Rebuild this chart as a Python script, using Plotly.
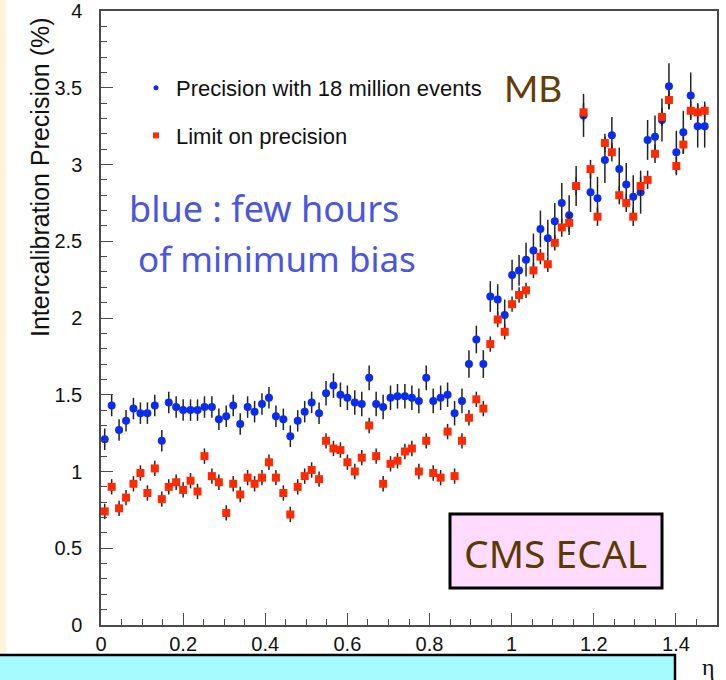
import plotly.graph_objects as go

# eta bin centres (85 crystal rings)
eta = [0.009, 0.026, 0.044, 0.061, 0.079, 0.096, 0.113, 0.131, 0.148, 0.165,
       0.183, 0.200, 0.218, 0.235, 0.252, 0.270, 0.287, 0.305, 0.322, 0.339,
       0.357, 0.374, 0.392, 0.409, 0.426, 0.444, 0.461, 0.479, 0.496, 0.513,
       0.531, 0.548, 0.566, 0.583, 0.600, 0.618, 0.635, 0.653, 0.670, 0.687,
       0.705, 0.722, 0.740, 0.757, 0.774, 0.792, 0.809, 0.827, 0.844, 0.861,
       0.879, 0.896, 0.914, 0.931, 0.948, 0.966, 0.983, 1.001, 1.018, 1.035,
       1.053, 1.070, 1.088, 1.105, 1.122, 1.140, 1.157, 1.175, 1.192, 1.209,
       1.227, 1.244, 1.262, 1.279, 1.296, 1.314, 1.331, 1.349, 1.366, 1.383,
       1.401, 1.418, 1.436, 1.453, 1.470]

# Precision with 18 million events (blue)
prec_mb = [1.21, 1.43, 1.27, 1.33, 1.41, 1.38, 1.38, 1.43, 1.20, 1.45,
           1.42, 1.40, 1.40, 1.40, 1.42, 1.42, 1.34, 1.36, 1.43, 1.31,
           1.42, 1.39, 1.44, 1.48, 1.36, 1.34, 1.23, 1.33, 1.39, 1.45,
           1.38, 1.51, 1.56, 1.50, 1.48, 1.45, 1.44, 1.61, 1.44, 1.42,
           1.48, 1.49, 1.49, 1.48, 1.46, 1.61, 1.46, 1.48, 1.50, 1.38,
           1.46, 1.70, 1.86, 1.70, 2.14, 2.12, 2.02, 2.28, 2.31, 2.38,
           2.44, 2.58, 2.52, 2.63, 2.75, 2.67, 2.86, 3.32, 2.82, 2.78,
           3.03, 3.19, 2.97, 2.87, 2.79, 2.82, 3.16, 3.18, 3.29, 3.51,
           3.08, 3.21, 3.45, 3.25, 3.25]
prec_mb_err = [0.07, 0.07, 0.07, 0.07, 0.07, 0.07, 0.07, 0.07, 0.07, 0.07,
               0.07, 0.07, 0.07, 0.07, 0.07, 0.07, 0.07, 0.07, 0.07, 0.07,
               0.07, 0.07, 0.07, 0.07, 0.07, 0.07, 0.07, 0.07, 0.07, 0.07,
               0.07, 0.08, 0.08, 0.08, 0.08, 0.08, 0.08, 0.08, 0.08, 0.08,
               0.08, 0.08, 0.08, 0.08, 0.08, 0.08, 0.08, 0.08, 0.08, 0.08,
               0.08, 0.09, 0.09, 0.09, 0.10, 0.10, 0.10, 0.10, 0.10, 0.11,
               0.11, 0.12, 0.12, 0.12, 0.13, 0.13, 0.13, 0.14, 0.13, 0.14,
               0.15, 0.12, 0.14, 0.14, 0.14, 0.14, 0.13, 0.14, 0.14, 0.15,
               0.14, 0.14, 0.15, 0.14, 0.14]

# Limit on precision (red)
prec_lim = [0.74, 0.90, 0.76, 0.83, 0.92, 0.99, 0.86, 1.02, 0.82, 0.90,
            0.93, 0.88, 0.94, 0.87, 1.10, 0.97, 0.93, 0.73, 0.92, 0.85,
            0.96, 0.92, 0.96, 1.06, 0.96, 0.86, 0.72, 0.90, 0.97, 1.01,
            0.95, 1.20, 1.15, 1.14, 1.06, 1.00, 1.09, 1.30, 1.10, 0.92,
            1.05, 1.07, 1.13, 1.15, 1.00, 1.20, 0.99, 0.96, 1.26, 0.97,
            1.20, 1.35, 1.47, 1.41, 1.83, 1.99, 1.91, 2.09, 2.15, 2.18,
            2.31, 2.40, 2.35, 2.49, 2.59, 2.62, 2.86, 3.34, 2.97, 2.66,
            3.14, 3.08, 2.80, 2.75, 2.66, 2.86, 2.90, 3.07, 3.31, 3.42,
            2.99, 3.13, 3.35, 3.34, 3.35]
prec_lim_err = [0.05, 0.05, 0.05, 0.05, 0.05, 0.05, 0.05, 0.05, 0.05, 0.05,
                0.05, 0.05, 0.05, 0.05, 0.05, 0.05, 0.05, 0.05, 0.05, 0.05,
                0.05, 0.05, 0.05, 0.05, 0.05, 0.05, 0.05, 0.05, 0.05, 0.05,
                0.05, 0.05, 0.05, 0.05, 0.05, 0.05, 0.05, 0.05, 0.05, 0.05,
                0.05, 0.05, 0.05, 0.05, 0.05, 0.05, 0.05, 0.05, 0.05, 0.05,
                0.05, 0.05, 0.05, 0.05, 0.05, 0.05, 0.05, 0.05, 0.05, 0.05,
                0.05, 0.05, 0.05, 0.05, 0.06, 0.06, 0.06, 0.06, 0.06, 0.06,
                0.06, 0.06, 0.06, 0.06, 0.06, 0.06, 0.06, 0.06, 0.06, 0.06,
                0.06, 0.06, 0.06, 0.06, 0.06]

x_ticks = [0, 0.2, 0.4, 0.6, 0.8, 1.0, 1.2, 1.4]
x_tick_text = ["0", "0.2", "0.4", "0.6", "0.8", "1", "1.2", "1.4"]
y_ticks = [0, 0.5, 1, 1.5, 2, 2.5, 3, 3.5, 4]
y_tick_text = ["0", "0.5", "1", "1.5", "2", "2.5", "3", "3.5", "4"]

BLUE = "#0a2cf0"
RED = "#ff2a00"

fig = go.Figure()
fig.add_trace(go.Scatter(
    x=eta, y=prec_mb, mode="markers", showlegend=False,
    marker=dict(symbol="circle", size=8, color=BLUE, line=dict(width=0)),
    error_y=dict(type="data", array=prec_mb_err, color="#222222", thickness=1.5, width=0)))
fig.add_trace(go.Scatter(
    x=eta, y=prec_lim, mode="markers", showlegend=False,
    marker=dict(symbol="square", size=8, color=RED, line=dict(width=0)),
    error_y=dict(type="data", array=prec_lim_err, color="#222222", thickness=1.5, width=0)))
# legend entries
fig.add_trace(go.Scatter(x=[None], y=[None], mode="markers", name="Precision with 18 million events",
                         legendgroup="a", marker=dict(symbol="circle", size=5, color=BLUE)))
fig.add_trace(go.Scatter(x=[None], y=[None], mode="markers", name="Limit on precision",
                         legendgroup="b", marker=dict(symbol="square", size=6, color=RED)))

L, R, T, B = 101, 9, 11, 55
W, H = 726, 680
pw, ph = W - L - R, H - T - B

def px(x):
    return (x - L) / pw

def py(y):
    return (H - B - y) / ph

axis_common = dict(
    showgrid=False, zeroline=False, showline=True, mirror=True,
    linecolor="#4a4a4a", linewidth=1.5,
    ticks="inside", ticklen=12, tickwidth=1.2, tickcolor="#4a4a4a",
    ticklabeloverflow="allow",
    tickfont=dict(family="Liberation Sans, Arial, sans-serif", size=20, color="#111111"),
)
fig.update_xaxes(range=[0, 1.5], tickvals=x_ticks, ticktext=x_tick_text,
                 minor=dict(ticks="inside", ticklen=6, dtick=0.05, tickcolor="#4a4a4a", tickwidth=1.2),
                 ticklabelstandoff=0, **axis_common)
fig.update_yaxes(range=[0, 4], tickvals=y_ticks, ticktext=y_tick_text,
                 minor=dict(ticks="inside", ticklen=6, dtick=0.1, tickcolor="#4a4a4a", tickwidth=1.2),
                 ticklabelstandoff=13, **axis_common)

shapes = [
    # cream strip on the left edge
    dict(type="rect", xref="paper", yref="paper", x0=px(0), x1=px(6), y0=py(655), y1=py(-5),
         fillcolor="#fdf5da", line=dict(width=0), layer="below"),
    # cyan bar at the bottom
    dict(type="rect", xref="paper", yref="paper", x0=px(-10), x1=px(675), y0=py(690), y1=py(655),
         fillcolor="#a6fbff", line=dict(color="black", width=2.5), layer="below"),
    # CMS ECAL box
    dict(type="rect", xref="paper", yref="paper", x0=px(450), x1=px(662), y0=py(588), y1=py(514),
         fillcolor="#ffdcff", line=dict(color="black", width=3)),
]

annotations = [
    dict(text="Intercalibration Precision (%)", xref="paper", yref="paper",
         x=px(40), y=py(177), textangle=-90, showarrow=False, xanchor="center", yanchor="middle",
         font=dict(family="Liberation Sans, Arial, sans-serif", size=25, color="#111111")),
    dict(text="MB", xref="paper", yref="paper", x=px(502), y=py(88), xanchor="left", yanchor="middle",
         showarrow=False, font=dict(family="Lato, sans-serif", size=37, color="#663c08")),
    dict(text="blue : few hours", xref="paper", yref="paper", x=px(127), y=py(208),
         xanchor="left", yanchor="middle", showarrow=False,
         font=dict(family="Noto Sans, sans-serif", size=36, color="#4a55e2")),
    dict(text="of minimum bias", xref="paper", yref="paper", x=px(136), y=py(258),
         xanchor="left", yanchor="middle", showarrow=False,
         font=dict(family="Noto Sans, sans-serif", size=35, color="#4a55e2")),
    dict(text="CMS ECAL", xref="paper", yref="paper", x=px(555), y=py(552),
         xanchor="center", yanchor="middle", showarrow=False,
         font=dict(family="Noto Sans, sans-serif", size=39, color="#5a3a00")),
    dict(text="η", xref="paper", yref="paper", x=px(708), y=py(667),
         xanchor="center", yanchor="middle", showarrow=False,
         font=dict(family="Liberation Serif, serif", size=24, color="#111111")),
]

fig.update_layout(
    width=W, height=H,
    margin=dict(l=L, r=R, t=T, b=B, autoexpand=False),
    paper_bgcolor="white", plot_bgcolor="white",
    shapes=shapes, annotations=annotations,
    legend=dict(x=px(136), y=py(67), xanchor="left", yanchor="top",
                bgcolor="rgba(0,0,0,0)", borderwidth=0, tracegroupgap=16,
                font=dict(family="Liberation Sans, Arial, sans-serif", size=22, color="#111111"),
                itemwidth=30),
)

fig.write_html("out.html")
